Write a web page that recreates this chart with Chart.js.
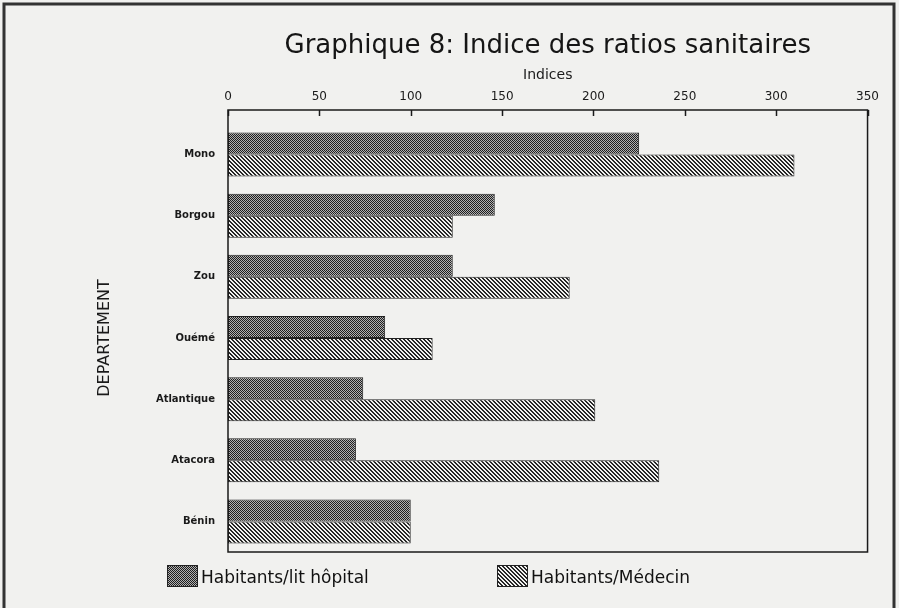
<!DOCTYPE html>
<html>
<head>
<meta charset="utf-8">
<script src="https://cdn.jsdelivr.net/npm/chart.js@4.4.1/dist/chart.umd.min.js"></script>
<style>
    html, body { margin: 0; padding: 0; background: #f1f1ef; }
    canvas { display: block; }
</style>
</head>
<body>
<canvas id="myChart" width="899" height="608"></canvas>
<script>
const departements = ['Mono', 'Borgou', 'Zou', 'Ouémé', 'Atlantique', 'Atacora', 'Bénin']
const litHopital = [225, 146, 123, 86, 74, 70, 100]
const medecin = [310, 123, 187, 112, 201, 236, 100]
const xTicks = [0, 50, 100, 150, 200, 250, 300, 350]
const seriesNames = ['Habitants/lit hôpital', 'Habitants/Médecin']

const ctx = document.getElementById('myChart')
const font = 'DejaVu Sans'

// small tiles for the two hatch fills
const makePattern = (kind) => {
    const tile = document.createElement('canvas')
    tile.width = 4
    tile.height = 4
    const g = tile.getContext('2d')
    g.fillStyle = kind === 'dots' ? '#b0b0b0' : '#f1f1ef'
    g.fillRect(0, 0, 4, 4)
    g.fillStyle = kind === 'dots' ? '#1e1e1e' : '#262626'
    for (let y = 0; y < 4; y++) {
        for (let x = 0; x < 4; x++) {
            const on = kind === 'dots' ? (x + y) % 2 === 0 : (x - y + 8) % 4 < 2
            if (on) g.fillRect(x, y, 1, 1)
        }
    }
    return ctx.getContext('2d').createPattern(tile, 'repeat')
}

const dots = makePattern('dots')
const stripes = makePattern('stripes')

// frame round the plot, tick marks and the legend at the bottom
const framePlugin = {
    id: 'frame',
    afterDraw(chart) {
        const c = chart.ctx
        const area = chart.chartArea
        const xs = chart.scales.x
        const top = area.top - 14
        c.save()
        c.strokeStyle = '#333'
        c.lineWidth = 3
        c.strokeRect(4, 4, 890, 700)

        c.strokeStyle = '#1a1a1a'
        c.lineWidth = 1.5
        c.strokeRect(area.left, top, area.right - area.left, area.bottom - top)
        xTicks.forEach(v => {
            const px = Math.round(xs.getPixelForValue(v)) + 0.5
            c.beginPath()
            c.moveTo(px, top)
            c.lineTo(px, top + 6)
            c.stroke()
        })

        const legendX = [167, 497]
        c.font = '17px "' + font + '"'
        c.textBaseline = 'middle'
        chart.data.datasets.forEach((ds, i) => {
            c.fillStyle = ds.backgroundColor
            c.fillRect(legendX[i], 565, 30, 21)
            c.lineWidth = 1
            c.strokeStyle = '#222'
            c.strokeRect(legendX[i] + 0.5, 565.5, 30, 21)
            c.fillStyle = '#111'
            c.fillText(ds.label, legendX[i] + 34, 579)
        })
        c.restore()
    }
}

new Chart(ctx, {
    type: 'bar',
    data: {
        labels: departements,
        datasets: [{
            label: seriesNames[0],
            data: litHopital,
            backgroundColor: dots,
            borderColor: '#222',
            borderWidth: 1,
            borderSkipped: false,
        }, {
            label: seriesNames[1],
            data: medecin,
            backgroundColor: stripes,
            borderColor: '#222',
            borderWidth: 1,
            borderSkipped: false,
        }],
    },
    options: {
        indexAxis: 'y',
        responsive: false,
        animation: false,
        devicePixelRatio: 1,
        categoryPercentage: 0.72,
        barPercentage: 1,
        layout: {
            padding: { left: 90, right: 30, top: 0, bottom: 56 }
        },
        plugins: {
            legend: { display: false },
            tooltip: { enabled: false },
            title: {
                display: true,
                text: 'Graphique 8: Indice des ratios sanitaires',
                color: '#151515',
                fullSize: false,
                font: { family: font, size: 26, weight: 'normal' },
                padding: { top: 31, bottom: 2 }
            }
        },
        scales: {
            x: {
                type: 'linear',
                position: 'top',
                min: 0,
                max: 350,
                afterBuildTicks: s => { s.ticks = xTicks.map(v => ({ value: v })) },
                afterFit: s => { s.height = 59.8 },
                grid: { display: false, drawTicks: false },
                border: { display: false },
                ticks: {
                    color: '#1a1a1a',
                    padding: 20,
                    maxRotation: 0,
                    font: { family: font, size: 12 }
                },
                title: {
                    display: true,
                    text: 'Indices',
                    color: '#1a1a1a',
                    padding: { top: 3, bottom: 0 },
                    font: { family: font, size: 14 }
                }
            },
            y: {
                afterFit: s => { s.width = 138 },
                grid: { display: false, drawTicks: false },
                border: { display: false },
                ticks: {
                    color: '#1a1a1a',
                    padding: 13,
                    font: { family: font, size: 10, weight: 'bold' }
                },
                title: {
                    display: true,
                    text: 'DEPARTEMENT',
                    color: '#1a1a1a',
                    padding: { top: 5, bottom: 0 },
                    font: { family: font, size: 16 }
                }
            }
        }
    },
    plugins: [framePlugin]
})
</script>
</body>
</html>
